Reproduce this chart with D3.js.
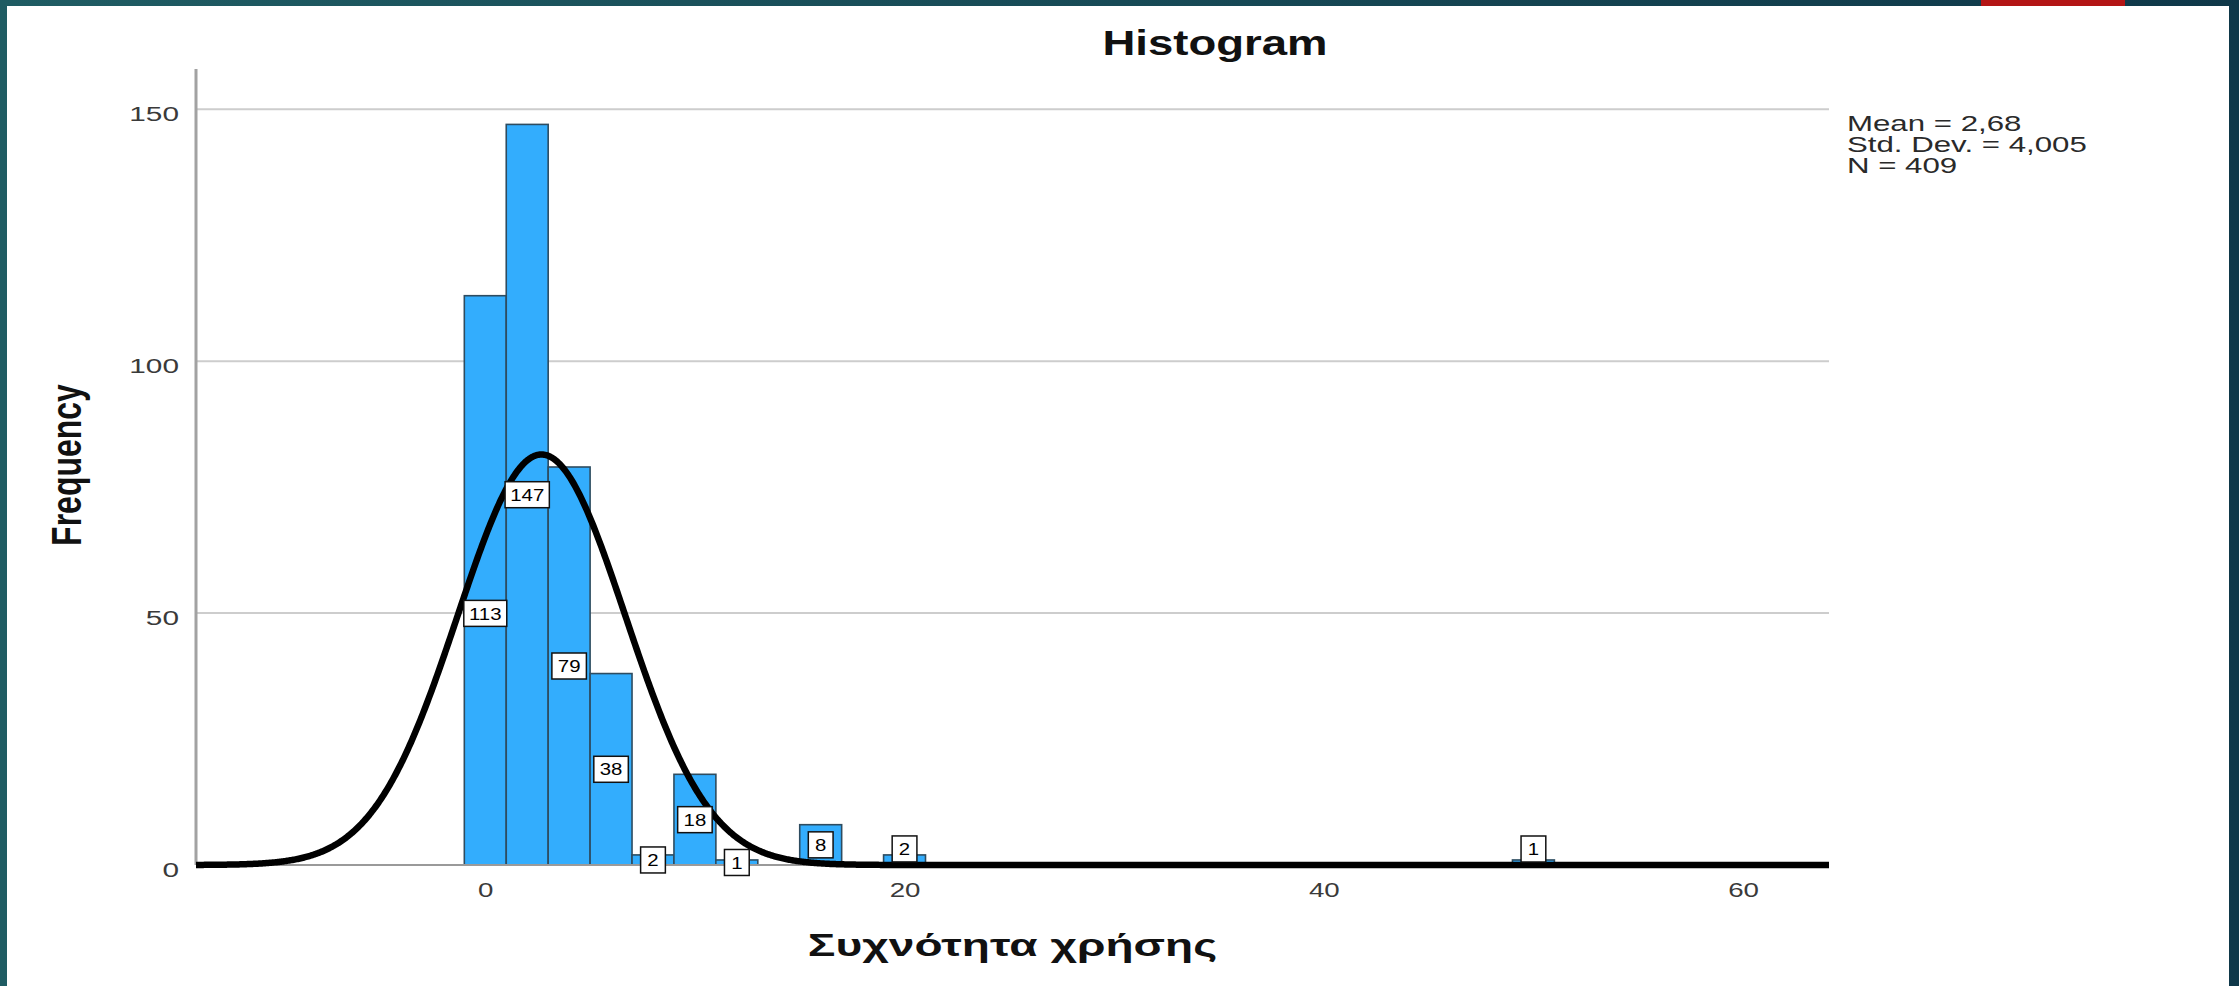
<!DOCTYPE html>
<html>
<head>
<meta charset="utf-8">
<script src="https://cdn.jsdelivr.net/npm/d3@7"></script>
<style>
    html, body {margin: 0; padding: 0; background: #17495a; overflow: hidden;}
    text {font-family: "Liberation Sans", Arial, sans-serif;}
</style>
</head>
<body>
<svg id="chart" width="2239" height="986"></svg>
<script>
// histogram bins (lower edge of each 2-unit bin that has cases) and their counts
const binLower = [-1, 1, 3, 5, 7, 9, 11, 15, 19, 49];
const binCounts = [113, 147, 79, 38, 2, 18, 1, 8, 2, 1];
const binWidth = 2;

// stats printed next to the chart
const statMean = 2.68;
const statSd = 4.005;
const statN = 409;
const statLines = ["Mean = 2,68", "Std. Dev. = 4,005", "N = 409"];

const yTicks = [0, 50, 100, 150];
const xTicks = [0, 20, 40, 60];

const titleText = "Histogram";
const xLabel = "Συχνότητα χρήσης";
const yLabel = "Frequency";

// the pasted chart is stretched sideways, so text is widened too
const STRETCH = 1.32;

let svg = d3.select("#chart");

// slide frame
let grad = svg.append("defs").append("linearGradient").attr("id", "band");
grad.append("stop").attr("offset", "0%").attr("stop-color", "#1f5c63");
grad.append("stop").attr("offset", "100%").attr("stop-color", "#0f3849");
svg.append("rect").attr("width", 2239).attr("height", 986).attr("fill", "url(#band)");
svg.append("rect").attr("x", 7).attr("y", 6).attr("width", 2222).attr("height", 980).attr("fill", "#ffffff");
svg.append("rect").attr("x", 1981).attr("y", 0).attr("width", 144).attr("height", 6).attr("fill", "#b31515");

let plotLeft = 196, plotRight = 1829, plotTop = 69, plotBottom = 865;

let x = d3.scaleLinear().domain([-13.8, 64.1]).range([plotLeft, plotRight]);
let y = d3.scaleLinear().domain([0, 158]).range([plotBottom, plotTop]);

// normal curve value (frequency scale) from the printed mean / sd / N
function normalFreq(v) {
    let z = (v - statMean) / statSd;
    return statN * binWidth * Math.exp(-0.5 * z * z) / (statSd * Math.sqrt(2 * Math.PI));
}

let g = svg.append("g");

// grid lines
g.append("g")
    .selectAll("line")
    .data(yTicks.filter(d => d > 0))
    .enter().append("line")
    .attr("x1", plotLeft).attr("x2", plotRight)
    .attr("y1", d => y(d)).attr("y2", d => y(d))
    .attr("stroke", "#cdcdcd").attr("stroke-width", 2);

// bars
let bins = binLower.map((lo, i) => ({lo: lo, count: binCounts[i]}));
g.append("g")
    .selectAll("rect")
    .data(bins)
    .enter().append("rect")
    .attr("x", d => x(d.lo))
    .attr("y", d => y(d.count))
    .attr("width", d => x(d.lo + binWidth) - x(d.lo))
    .attr("height", d => y(0) - y(d.count))
    .attr("fill", "#33adfd")
    .attr("stroke", "#2e4c60")
    .attr("stroke-width", 1.6);

// baseline + y axis line
g.append("line")
    .attr("x1", plotLeft).attr("x2", plotRight)
    .attr("y1", y(0)).attr("y2", y(0))
    .attr("stroke", "#9a9a9a").attr("stroke-width", 2);
g.append("line")
    .attr("x1", plotLeft).attr("x2", plotLeft)
    .attr("y1", plotTop).attr("y2", plotBottom)
    .attr("stroke", "#a2a2a2").attr("stroke-width", 3);

let dom = x.domain();
let curvePts = d3.range(dom[0], dom[1] + 0.05, 0.05).map(v => [v, normalFreq(v)]);
g.append("path")
    .datum(curvePts)
    .attr("d", d3.line().x(d => x(d[0])).y(d => y(d[1])))
    .attr("fill", "none")
    .attr("stroke", "#000")
    .attr("stroke-width", 6.5)
    .attr("stroke-linejoin", "round");

// count labels, centred on the bar, pushed off the curve when it cuts right through the box
const BOX_H = 26;
let labels = g.append("g")
    .selectAll("g")
    .data(bins)
    .enter().append("g");
labels.append("rect");
labels.append("text")
    .attr("transform", "scale(1.2,1)")
    .attr("text-anchor", "middle")
    .attr("dy", "0.36em")
    .attr("font-size", 17)
    .attr("fill", "#000")
    .text(d => d.count);
labels.each(function (d) {
    let t = d3.select(this).select("text");
    let w = t.node().getComputedTextLength() * 1.2;
    let bw = w * 0.86 + 15;
    let cx = x(d.lo + binWidth / 2);
    let cy = y(d.count / 2);
    let top = cy - BOX_H / 2, bot = cy + BOX_H / 2;
    let yl = y(normalFreq(x.invert(cx - bw / 2)));
    let yr = y(normalFreq(x.invert(cx + bw / 2)));
    let inside = v => v >= top && v <= bot;
    let cut = (inside(yl) && inside(yr)) || (yl > bot && yr < top) || (yl < top && yr > bot);
    if (cut) {
        if ((yl + yr) / 2 < cy) cy = Math.max(yl, yr) + 3 + BOX_H / 2;
        else cy = Math.min(yl, yr) - 3 - BOX_H / 2;
    }
    d3.select(this).attr("transform", "translate(" + cx + "," + cy + ")");
    d3.select(this).select("rect")
        .attr("x", -bw / 2).attr("y", -BOX_H / 2)
        .attr("width", bw).attr("height", BOX_H)
        .attr("fill", "#fff").attr("stroke", "#111").attr("stroke-width", 1.5);
});

// axes
let yAxis = g.append("g")
    .attr("transform", "translate(" + plotLeft + ",0)")
    .call(d3.axisLeft(y).tickValues(yTicks).tickSize(0).tickPadding(12));
yAxis.select(".domain").remove();
yAxis.selectAll("text")
    .attr("font-size", 21)
    .attr("fill", "#3a3a3a")
    .attr("dy", "0.55em")
    .attr("transform", "scale(1.42,1)");

let xAxis = g.append("g")
    .attr("transform", "translate(0," + plotBottom + ")")
    .call(d3.axisBottom(x).tickValues(xTicks).tickSize(0).tickPadding(17));
xAxis.select(".domain").remove();
xAxis.selectAll("text")
    .attr("font-size", 21)
    .attr("fill", "#3a3a3a")
    .attr("transform", "scale(" + STRETCH + ",1)");

// title and axis titles
svg.append("text")
    .attr("transform", "translate(1215,55) scale(" + STRETCH + ",1)")
    .attr("text-anchor", "middle")
    .attr("font-size", 34.5)
    .attr("font-weight", "bold")
    .attr("fill", "#111")
    .text(titleText);

svg.append("text")
    .attr("transform", "translate(" + ((plotLeft + plotRight) / 2) + ",956) scale(1.44,1)")
    .attr("text-anchor", "middle")
    .attr("font-size", 32)
    .attr("font-weight", "bold")
    .attr("fill", "#111")
    .text(xLabel);

svg.append("text")
    .attr("transform", "translate(81,465) scale(" + STRETCH + ",1) rotate(-90)")
    .attr("text-anchor", "middle")
    .attr("font-size", 32)
    .attr("font-weight", "bold")
    .attr("fill", "#111")
    .text(yLabel);

// stats box
svg.append("g")
    .selectAll("text")
    .data(statLines)
    .enter().append("text")
    .attr("transform", (d, i) => "translate(1847," + (131 + i * 21) + ") scale(1.42,1)")
    .attr("font-size", 22)
    .attr("fill", "#2a2a2a")
    .text(d => d);
</script>
</body>
</html>
